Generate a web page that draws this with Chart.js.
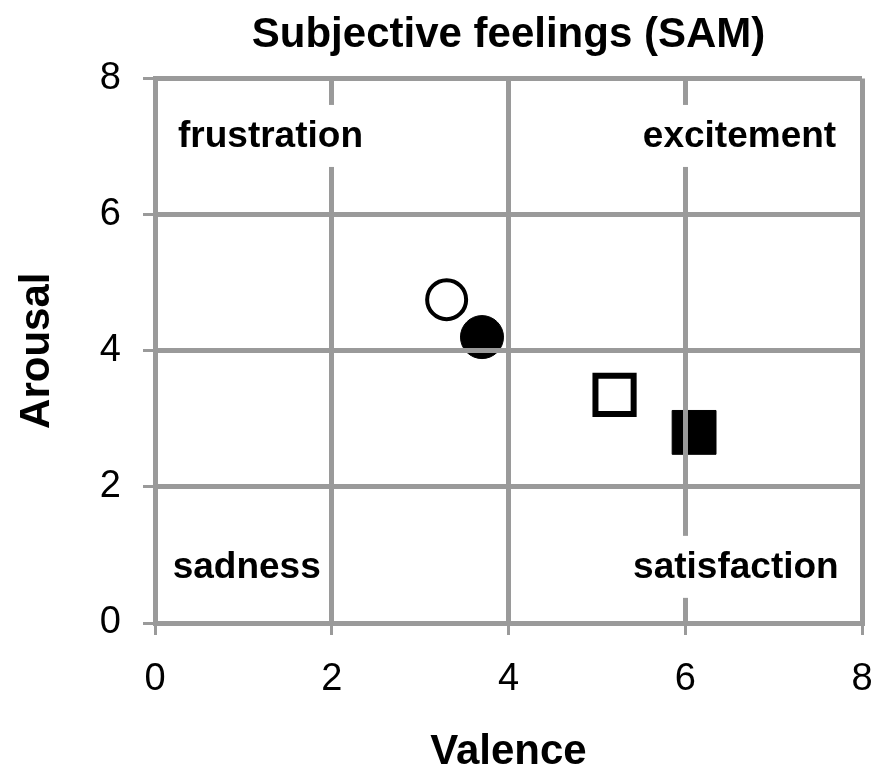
<!DOCTYPE html>
<html>
<head>
<meta charset="utf-8">
<script src="https://cdn.jsdelivr.net/npm/chart.js@4"></script>
<style>
  body { margin: 0; background: #fff; overflow: hidden; }
  #wrap { width: 879px; height: 769px; }
</style>
</head>
<body>
<div id="wrap"><canvas id="samChart"></canvas></div>
<script>
// datos
const seriesNames = ['Condition 1', 'Condition 2', 'Condition 3', 'Condition 4'];
const valence = [3.3, 3.7, 5.2, 6.1];
const arousal = [4.75, 4.2, 3.35, 2.8];
const axisTicks = [0, 2, 4, 6, 8];

// etiquetas de los cuadrantes
const quadrantLabels = ['frustration', 'excitement', 'sadness', 'satisfaction'];
const quadrantX = [0.26, 5.52, 0.2, 5.41];
const quadrantY = [7.14, 7.14, 0.81, 0.81];

const gridColor = '#9a9a9a';
const fontFamily = "'Liberation Sans', Arial, sans-serif";

const markerStyles = [
  { pointStyle: 'circle', pointRadius: 19.5, borderWidth: 4, bg: '#fff' },
  { pointStyle: 'circle', pointRadius: 21.5, borderWidth: 1, bg: '#000' },
  { pointStyle: 'rect', pointRadius: 27, borderWidth: 6, bg: '#fff' },
  { pointStyle: 'rect', pointRadius: 31, borderWidth: 1, bg: '#000' }
];

const datasets = seriesNames.map((name, i) => ({
  label: name,
  data: [{ x: valence[i], y: arousal[i] }],
  pointStyle: markerStyles[i].pointStyle,
  pointRadius: markerStyles[i].pointRadius,
  pointHoverRadius: markerStyles[i].pointRadius,
  borderWidth: markerStyles[i].borderWidth,
  borderColor: '#000',
  backgroundColor: markerStyles[i].bg
}));

const quadrantPlugin = {
  id: 'quadrants',
  afterDraw(chart) {
    const ctx = chart.ctx;
    const xs = chart.scales.x;
    const ys = chart.scales.y;
    ctx.save();
    ctx.font = 'bold 37px ' + fontFamily;
    ctx.textBaseline = 'middle';
    ctx.textAlign = 'left';
    quadrantLabels.forEach((txt, i) => {
      const px = xs.getPixelForValue(quadrantX[i]);
      const py = ys.getPixelForValue(quadrantY[i]);
      const w = ctx.measureText(txt).width;
      ctx.fillStyle = '#fff';
      ctx.fillRect(px - 6, py - 32, w + 8, 62);
      ctx.fillStyle = '#000';
      ctx.fillText(txt, px, py);
    });
    ctx.restore();
  }
};

const makeAxis = (title, isX) => ({
  type: 'linear',
  min: 0,
  max: 8,
  afterBuildTicks: (scale) => { scale.ticks = axisTicks.map(v => ({ value: v })); },
  afterFit: (scale) => {
    if (isX) {
      scale.height = 146;
      scale.paddingLeft = 0;
      scale.paddingRight = 0;
    } else {
      scale.width = 155;
      scale.paddingTop = 0;
      scale.paddingBottom = 0;
    }
  },
  grid: {
    color: gridColor,
    lineWidth: 5,
    tickLength: 12,
    tickWidth: 3,
    tickColor: gridColor,
    z: 1
  },
  border: { display: true, color: gridColor, width: 5, z: 1 },
  ticks: {
    color: '#000',
    padding: 22,
    font: { family: fontFamily, size: 38 }
  },
  title: {
    display: true,
    text: title,
    color: '#000',
    padding: isX ? { top: 0, bottom: 0 } : { top: 16, bottom: 0 },
    font: { family: fontFamily, size: 42, weight: 'bold', lineHeight: isX ? 0.8 : 1 }
  }
});

new Chart(document.getElementById('samChart').getContext('2d'), {
  type: 'scatter',
  data: { datasets: datasets },
  options: {
    responsive: true,
    maintainAspectRatio: false,
    animation: false,
    layout: { autoPadding: false, padding: { left: 0, right: 17, top: 0, bottom: 0 } },
    plugins: {
      legend: { display: false },
      tooltip: { enabled: false },
      title: {
        display: true,
        text: 'Subjective feelings (SAM)',
        color: '#000',
        fullSize: false,
        padding: { top: 10, bottom: 18 },
        font: { family: fontFamily, size: 42, weight: 'bold', lineHeight: 1.2 }
      }
    },
    scales: {
      x: makeAxis('Valence', true),
      y: makeAxis('Arousal', false)
    }
  },
  plugins: [quadrantPlugin]
});
</script>
</body>
</html>
